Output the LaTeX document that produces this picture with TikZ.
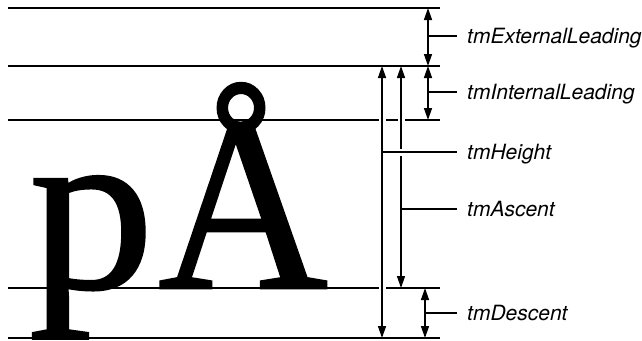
\documentclass[tikz,border=0pt]{standalone}
\usepackage{fontspec}
\setmainfont{Liberation Serif}
\newfontfamily\glyphfont[FakeBold=1]{Liberation Serif}
\newfontfamily\metricfont{TeX Gyre Heros}
\usetikzlibrary{arrows.meta}

\tikzset{
  rule/.style={line width=2pt},
  dim/.style={line width=1.4pt,{Triangle[length=12pt,width=8pt]}-{Triangle[length=12pt,width=8pt]}},
  knockout/.style={preaction={draw=white,line width=7pt,-,shorten <=5pt,shorten >=5pt}},
  tick/.style={line width=1.4pt},
  metric/.style={anchor=west,inner xsep=10pt,inner ysep=0pt,text depth=0pt,
    font=\metricfont\itshape\fontsize{21}{24}\selectfont},
  glyph/.style={anchor=base west,inner sep=0pt,font=\glyphfont\fontsize{250}{250}\selectfont}
}

\begin{document}
\begin{tikzpicture}[x=1pt,y=-1pt]
  \useasboundingbox (0,0) rectangle (642,340);
  % the five lines
  \foreach \y in {8,66,120,288,338} \draw[rule] (8,\y) -- (440,\y);
  \node[glyph,yscale=0.95] (p) at (29,288) {p};
  \node[glyph,xscale=0.94] (aring) at (158,288) {Å};
  % arrows
  \coordinate (htop) at (382,66);  \coordinate (hbot) at (382,338);
  \coordinate (atop) at (401,66);  \coordinate (abot) at (401,288);
  \draw[dim,knockout] (htop) -- (hbot);
  \draw[dim,knockout] (atop) -- (abot);
  \draw[dim] (428,8) -- (428,66);
  \draw[dim] (428,66) -- (428,120);
  \draw[dim] (425,288) -- (425,338);
  % labels
  \node[metric] (ext) at (457,36) {tmExternalLeading};
  \node[metric] (int) at (457,92) {tmInternalLeading};
  \node[metric] (hgt) at (457,152) {tmHeight};
  \node[metric] (asc) at (457,209) {tmAscent};
  \node[metric] (dsc) at (457,313) {tmDescent};
  \draw[tick] (428,36) -- (ext.west);
  \draw[tick] (428,92) -- (int.west);
  \draw[tick,preaction={draw=white,line width=7pt,shorten <=5pt}] (382,152) -- (hgt.west);
  \draw[tick] (401,209) -- (asc.west);
  \draw[tick] (425,313) -- (dsc.west);
\end{tikzpicture}
\end{document}
